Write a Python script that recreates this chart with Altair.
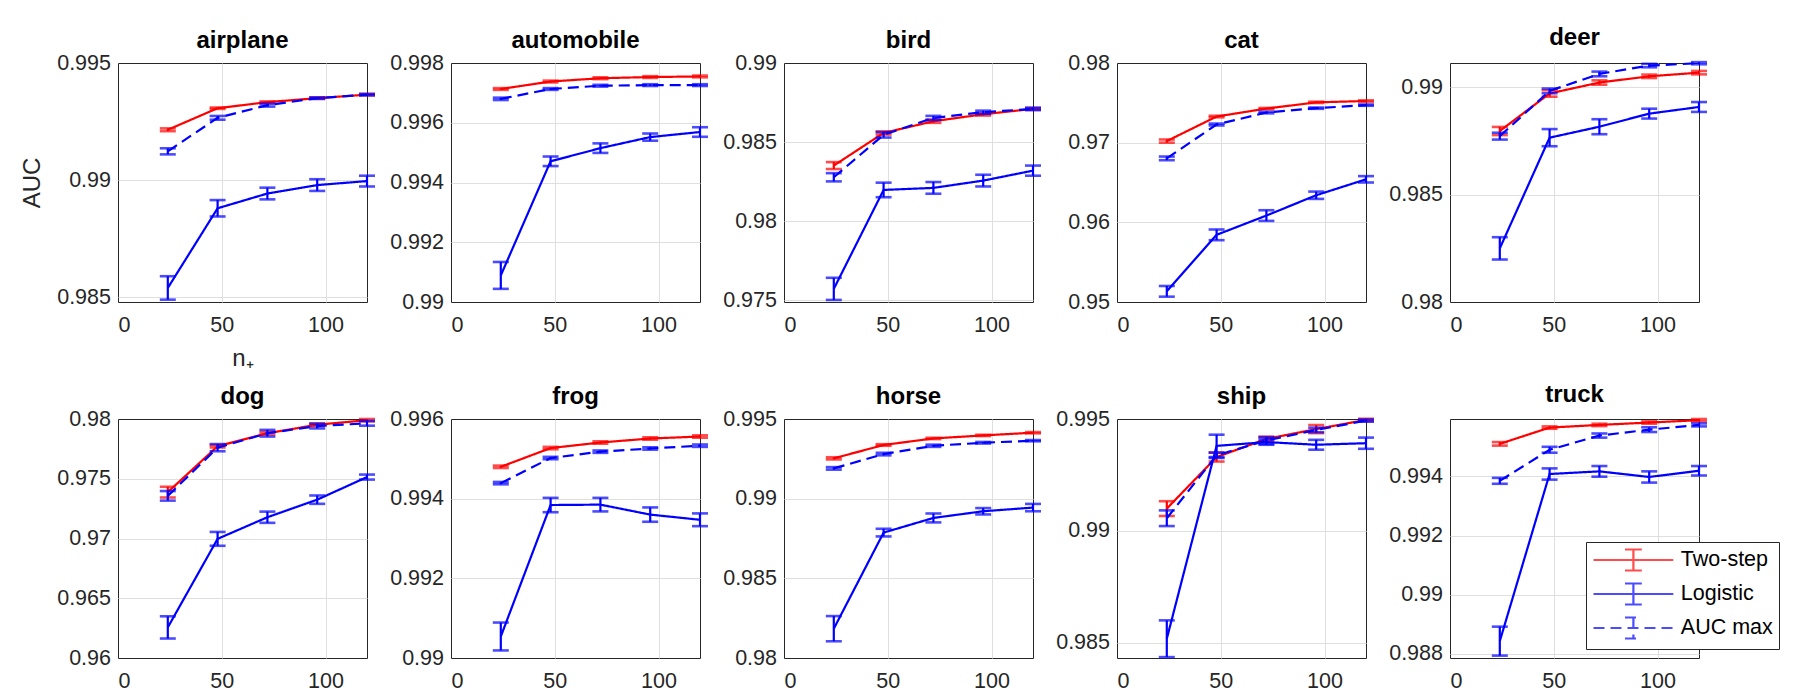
import altair as alt
import pandas as pd

# ---------------- data ----------------
x_vals = [24, 48, 72, 96, 120]
classes = ["airplane", "automobile", "bird", "cat", "deer",
           "dog", "frog", "horse", "ship", "truck"]
methods = ["Two-step", "Logistic", "AUC max"]
colors = ["#ff0000", "#0000ff", "#0000ff"]
dashes = [[1, 0], [1, 0], [11, 6]]

two_step = {
    "airplane":   [0.99215, 0.99307, 0.99333, 0.99350, 0.99365],
    "automobile": [0.99713, 0.99738, 0.99749, 0.99753, 0.99755],
    "bird":       [0.98352, 0.98558, 0.98632, 0.98676, 0.98710],
    "cat":        [0.97020, 0.97328, 0.97428, 0.97506, 0.97523],
    "deer":       [0.98797, 0.98972, 0.99023, 0.99052, 0.99069],
    "dog":        [0.97388, 0.97772, 0.97881, 0.97952, 0.97990],
    "frog":       [0.99480, 0.99527, 0.99541, 0.99551, 0.99556],
    "horse":      [0.99253, 0.99337, 0.99378, 0.99397, 0.99414],
    "ship":       [0.99100, 0.99330, 0.99411, 0.99455, 0.99496],
    "truck":      [0.99510, 0.99565, 0.99574, 0.99582, 0.99590],
}
two_step_err = {
    "airplane":   [0.00006, 0.00003, 0.00003, 0.00003, 0.00003],
    "automobile": [0.00003, 0.00003, 0.00003, 0.00003, 0.00003],
    "bird":       [0.00022, 0.00010, 0.00010, 0.00008, 0.00005],
    "cat":        [0.00020, 0.00010, 0.00008, 0.00008, 0.00008],
    "deer":       [0.00019, 0.00015, 0.00010, 0.00008, 0.00008],
    "dog":        [0.00045, 0.00010, 0.00010, 0.00010, 0.00010],
    "frog":       [0.00003, 0.00003, 0.00003, 0.00003, 0.00003],
    "horse":      [0.00007, 0.00005, 0.00004, 0.00004, 0.00004],
    "ship":       [0.00033, 0.00020, 0.00010, 0.00018, 0.00005],
    "truck":      [0.00006, 0.00004, 0.00004, 0.00004, 0.00004],
}
logistic = {
    "airplane":   [0.98540, 0.98880, 0.98943, 0.98979, 0.98996],
    "automobile": [0.99089, 0.99471, 0.99515, 0.99552, 0.99569],
    "bird":       [0.97573, 0.98198, 0.98211, 0.98257, 0.98320],
    "cat":        [0.95134, 0.95843, 0.96085, 0.96340, 0.96540],
    "deer":       [0.98250, 0.98766, 0.98817, 0.98878, 0.98909],
    "dog":        [0.96256, 0.96997, 0.97178, 0.97325, 0.97514],
    "frog":       [0.99054, 0.99384, 0.99385, 0.99360, 0.99347],
    "horse":      [0.98184, 0.98787, 0.98879, 0.98921, 0.98944],
    "ship":       [0.98519, 0.99380, 0.99397, 0.99385, 0.99392],
    "truck":      [0.98843, 0.99408, 0.99417, 0.99398, 0.99419],
}
logistic_err = {
    "airplane":   [0.00050, 0.00035, 0.00025, 0.00025, 0.00023],
    "automobile": [0.00045, 0.00016, 0.00016, 0.00012, 0.00016],
    "bird":       [0.00070, 0.00046, 0.00037, 0.00037, 0.00032],
    "cat":        [0.00067, 0.00067, 0.00067, 0.00046, 0.00040],
    "deer":       [0.00052, 0.00040, 0.00035, 0.00023, 0.00023],
    "dog":        [0.00093, 0.00058, 0.00047, 0.00035, 0.00021],
    "frog":       [0.00035, 0.00018, 0.00017, 0.00018, 0.00016],
    "horse":      [0.00079, 0.00024, 0.00028, 0.00020, 0.00023],
    "ship":       [0.00082, 0.00050, 0.00012, 0.00022, 0.00025],
    "truck":      [0.00049, 0.00019, 0.00018, 0.00019, 0.00016],
}
auc_max = {
    "airplane":   [0.99123, 0.99266, 0.99320, 0.99350, 0.99365],
    "automobile": [0.99680, 0.99713, 0.99724, 0.99726, 0.99726],
    "bird":       [0.98278, 0.98546, 0.98653, 0.98689, 0.98710],
    "cat":        [0.96803, 0.97228, 0.97378, 0.97433, 0.97471],
    "deer":       [0.98773, 0.98984, 0.99063, 0.99102, 0.99113],
    "dog":        [0.97357, 0.97760, 0.97881, 0.97941, 0.97964],
    "frog":       [0.99439, 0.99502, 0.99518, 0.99526, 0.99533],
    "horse":      [0.99190, 0.99280, 0.99332, 0.99351, 0.99364],
    "ship":       [0.99057, 0.99338, 0.99404, 0.99451, 0.99493],
    "truck":      [0.99385, 0.99490, 0.99538, 0.99558, 0.99574],
}
auc_max_err = {
    "airplane":   [0.00013, 0.00008, 0.00006, 0.00003, 0.00003],
    "automobile": [0.00004, 0.00003, 0.00003, 0.00003, 0.00003],
    "bird":       [0.00026, 0.00017, 0.00013, 0.00010, 0.00008],
    "cat":        [0.00023, 0.00012, 0.00010, 0.00008, 0.00008],
    "deer":       [0.00016, 0.00011, 0.00011, 0.00008, 0.00005],
    "dog":        [0.00040, 0.00030, 0.00028, 0.00020, 0.00020],
    "frog":       [0.00003, 0.00003, 0.00003, 0.00003, 0.00003],
    "horse":      [0.00008, 0.00008, 0.00007, 0.00005, 0.00004],
    "ship":       [0.00035, 0.00012, 0.00015, 0.00010, 0.00005],
    "truck":      [0.00010, 0.00010, 0.00007, 0.00008, 0.00005],
}
y_domain = {
    "airplane":   [0.9848, 0.995],
    "automobile": [0.99, 0.998],
    "bird":       [0.9749, 0.99],
    "cat":        [0.95, 0.98],
    "deer":       [0.98, 0.99114],
    "dog":        [0.96, 0.98],
    "frog":       [0.99, 0.996],
    "horse":      [0.98, 0.995],
    "ship":       [0.98433, 0.995],
    "truck":      [0.98786, 0.99594],
}
y_ticks = {
    "airplane":   [0.985, 0.99, 0.995],
    "automobile": [0.99, 0.992, 0.994, 0.996, 0.998],
    "bird":       [0.975, 0.98, 0.985, 0.99],
    "cat":        [0.95, 0.96, 0.97, 0.98],
    "deer":       [0.98, 0.985, 0.99],
    "dog":        [0.96, 0.965, 0.97, 0.975, 0.98],
    "frog":       [0.99, 0.992, 0.994, 0.996],
    "horse":      [0.98, 0.985, 0.99, 0.995],
    "ship":       [0.985, 0.99, 0.995],
    "truck":      [0.988, 0.99, 0.992, 0.994],
}
x_domain = [0, 120]
x_ticks = [0, 50, 100]

FONT = "Liberation Sans"
PANEL_W, PANEL_H = 249, 239
GRID = "#dfdfdf"
LEGEND_SYMBOL = "M-3.8,0H3.8M0,-1V1M-0.8,-1H0.8M-0.8,1H0.8"


def grid_color(lo, hi):
    # hide grid lines that fall on the box edges so the dark frame stays visible
    eps = 1e-9
    return {
        "condition": {
            "test": f"datum.value <= {lo + eps} || datum.value >= {hi - eps}",
            "value": "transparent",
        },
        "value": GRID,
    }


def make_panel(name):
    series = [
        ("Two-step", two_step[name], two_step_err[name]),
        ("Logistic", logistic[name], logistic_err[name]),
        ("AUC max", auc_max[name], auc_max_err[name]),
    ]
    rows = []
    for m, vals, errs in series:
        for xv, v, e in zip(x_vals, vals, errs):
            rows.append({"n": xv, "method": m, "auc": v, "lo": v - e, "hi": v + e})
    df = pd.DataFrame(rows)

    ylo, yhi = y_domain[name]
    xsc = alt.Scale(domain=x_domain, nice=False, zero=False)
    ysc = alt.Scale(domain=[ylo, yhi], nice=False, zero=False)
    csc = alt.Scale(domain=methods, range=colors)
    dsc = alt.Scale(domain=methods, range=dashes)

    if name == "truck":
        leg = alt.Legend(
            title=None, orient="none", legendX=136, legendY=123,
            direction="vertical",
            symbolType=LEGEND_SYMBOL, symbolSize=441, symbolStrokeWidth=2.2,
            symbolOffset=29.4, labelOffset=35.4,
            labelFont=FONT, labelFontSize=21.5, labelColor="#000000",
            padding=6, rowPadding=4,
            strokeColor="#262626", fillColor="#ffffff",
        )
    else:
        leg = None

    x_axis = alt.Axis(values=x_ticks,
                      gridColor=grid_color(x_domain[0], x_domain[1]),
                      title="n\u208a" if name == "airplane" else None)
    y_axis = alt.Axis(values=y_ticks[name], format=".3~f",
                      gridColor=grid_color(ylo, yhi),
                      title="AUC" if name == "airplane" else None)
    X = alt.X("n:Q", scale=xsc, axis=x_axis)

    layers = []
    for m in methods:
        base = alt.Chart(df[df["method"] == m])
        col = alt.Color("method:N", scale=csc, legend=leg)
        line = base.mark_line(strokeWidth=2.2).encode(
            x=X,
            y=alt.Y("auc:Q", scale=ysc, axis=y_axis),
            color=col,
            strokeDash=alt.StrokeDash("method:N", scale=dsc, legend=leg),
        )
        bar = base.mark_rule(strokeWidth=2.2).encode(
            x=X,
            y=alt.Y("lo:Q", scale=ysc, axis=y_axis),
            y2="hi:Q",
            color=col,
        )
        cap_lo = base.mark_tick(orient="horizontal", size=16, thickness=2.6).encode(
            x=X,
            y=alt.Y("lo:Q", scale=ysc, axis=y_axis),
            color=col,
        )
        cap_hi = base.mark_tick(orient="horizontal", size=16, thickness=2.6).encode(
            x=X,
            y=alt.Y("hi:Q", scale=ysc, axis=y_axis),
            color=col,
        )
        layers += [line, bar, cap_lo, cap_hi]

    # a tick label sitting on the top edge pushes the title up; compensate
    top_label = abs(y_ticks[name][-1] - yhi) < 1e-9
    title = alt.TitleParams(name, dy=10) if top_label else alt.TitleParams(name)
    return alt.layer(*layers).properties(width=PANEL_W, height=PANEL_H, title=title)


chart = alt.concat(
    *[make_panel(c) for c in classes],
    columns=5, spacing={"row": 117, "column": 84}, bounds="flush",
).resolve_scale(
    x="independent", y="independent", color="independent", strokeDash="independent"
).resolve_legend(
    color="independent", strokeDash="independent"
).properties(
    padding={"left": 12, "top": 17, "right": 5, "bottom": 5}
).configure(
    font=FONT, background="#ffffff"
).configure_view(
    stroke="#262626", strokeWidth=1
).configure_axis(
    grid=True, gridWidth=1,
    domain=False, ticks=False, tickSize=0,
    labelFont=FONT, labelFontSize=21.5, labelColor="#262626",
    titleFont=FONT, titleFontSize=24, titleFontWeight="normal", titleColor="#262626",
).configure_axisX(
    labelPadding=12, titlePadding=11
).configure_axisY(
    labelPadding=7.5, titlePadding=12
).configure_title(
    font=FONT, fontSize=24, fontWeight="bold", color="#000000",
    offset=9, baseline="alphabetic", frame="group", anchor="middle"
)

chart.save("out.html", embed_options={"renderer": "svg", "actions": False})
